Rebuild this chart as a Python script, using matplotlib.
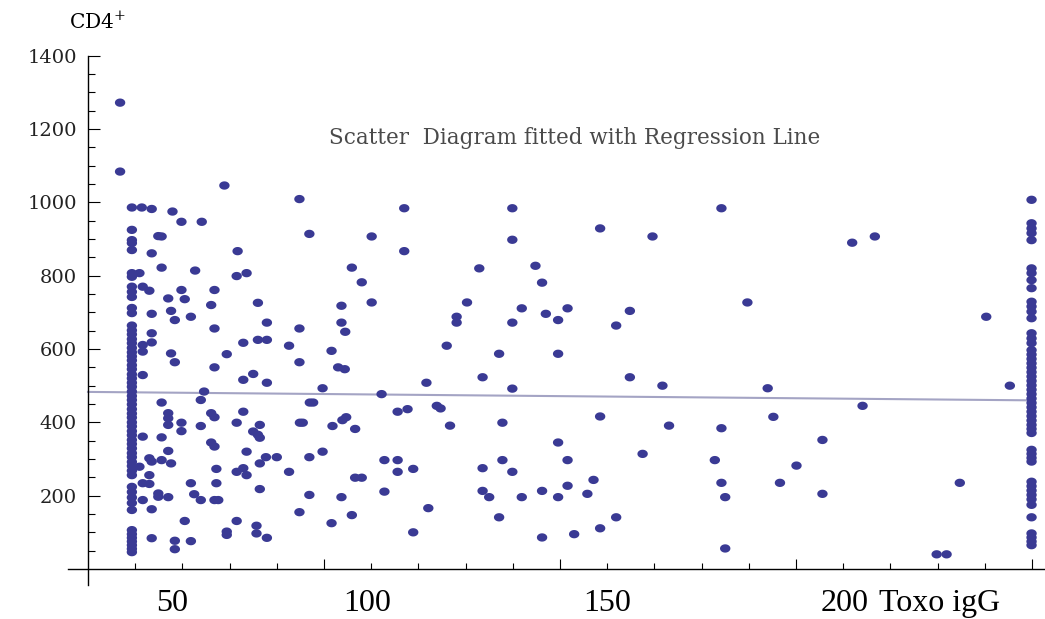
import numpy as np
import matplotlib
matplotlib.use("Agg")
import matplotlib.pyplot as plt
from matplotlib.path import Path

plt.rcParams['mathtext.fontset'] = 'dejavuserif'

# Toxo igG vs CD4+ values
# dense column at the lowest titre
left_col_x = 49.3
left_col_y = [986, 925, 897, 889, 870, 807, 797, 770, 756, 742, 712, 698, 664, 651, 640,
              627, 616, 603, 591, 580, 569, 556, 545, 531, 520, 508, 497, 484, 472, 461,
              449, 436, 424, 413, 400, 389, 376, 365, 352, 341, 329, 316, 305, 292, 281,
              268, 256, 224, 210, 195, 180, 161, 106, 95, 85, 75, 65, 55, 46]

# dense column at the highest titre
right_col_x = 239.9
right_col_y = [1007, 943, 929, 916, 897, 820, 807, 788, 766, 729, 716, 702, 684, 643, 629,
               616, 597, 585, 573, 561, 549, 537, 525, 513, 501, 489, 477, 465, 453, 441,
               429, 417, 405, 393, 382, 371, 325, 314, 303, 293, 238, 226, 214, 202, 190,
               175, 141, 97, 86, 75, 65]

# scattered points
toxo = [46.8, 46.8, 68.9, 51.4, 53.5, 57.9, 59.8, 64.1, 54.9, 55.6, 53.5, 71.7, 55.6, 62.7,
        50.9, 71.5, 73.6, 51.6, 53.0, 59.8, 66.8, 57.0, 60.5, 66.1, 76.0, 57.6, 53.5, 61.8,
        58.4, 66.8, 53.5, 53.5, 51.6, 51.6, 72.9, 76.0, 57.6, 69.4, 58.4, 66.8,
        51.6, 72.9, 75.0, 64.6, 55.6, 63.9, 57.0, 57.0, 57.0, 59.8, 59.8, 66.1, 66.8, 63.9,
        72.9, 71.5, 75.0, 76.0, 51.6, 55.6, 66.1, 66.8, 57.0, 73.6, 53.0, 53.5, 55.6, 57.6,
        50.9, 67.2, 71.5, 72.9, 73.6, 53.0, 51.6, 53.0, 61.8, 67.2, 51.6, 54.9, 54.9, 57.0,
        62.5, 63.9, 66.8, 67.6, 53.5, 60.5, 71.5, 69.4, 69.4, 53.5, 58.4, 58.4, 61.8, 75.7,
        75.7,
        84.8, 107.0, 86.9, 100.1, 107.0, 95.9, 98.0, 93.7, 100.1, 77.9, 84.8, 93.7, 94.5,
        77.9, 82.6, 91.6, 84.8, 93.0, 94.4,
        77.9, 89.7, 102.2, 111.7, 87.0, 87.7, 105.6, 107.7, 84.9, 85.5, 76.4, 76.4, 91.8,
        93.9, 94.7, 96.6, 89.7, 86.9, 77.7, 80.0, 76.4, 82.6, 102.8, 105.6, 105.6, 108.9,
        96.6, 98.0, 76.4, 86.9, 93.7, 102.8, 84.8, 95.9, 91.6, 112.1, 77.9, 108.9,
        129.9, 148.5, 129.9, 122.9, 134.8, 136.2, 120.3, 118.1, 118.1, 131.9, 137.0, 139.6,
        141.6, 129.9, 151.9, 116.0, 127.1, 139.6, 123.6, 129.9, 113.9, 114.7, 116.7, 127.8,
        148.5, 139.6, 123.6, 127.8, 129.9, 141.6, 147.1, 123.6, 125.0, 131.9, 136.2, 139.6,
        141.6, 145.8, 127.1, 151.9, 136.2, 143.0, 148.5,
        174.2, 159.6, 201.9, 206.7, 179.7, 154.8, 154.8, 161.7, 184.0, 204.1, 185.2, 163.1,
        174.2, 195.6, 157.5, 172.8, 190.1, 174.2, 186.6, 175.0, 195.6, 175.0, 219.8, 221.9,
        230.3, 235.3, 224.7]

cd4 = [1272, 1084, 1046, 986, 982, 975, 947, 947, 908, 907, 861, 867, 822, 814,
       807, 799, 807, 770, 759, 761, 761, 738, 736, 720, 726, 704, 696, 688,
       679, 656, 643, 618, 611, 593, 617, 625, 588, 586, 564, 550,
       529, 516, 532, 484, 454, 461, 425, 411, 393, 399, 376, 425, 414, 390,
       429, 399, 375, 366, 361, 359, 345, 334, 322, 320, 302, 293, 297, 288,
       279, 273, 265, 275, 256, 256, 234, 232, 234, 234, 188, 206, 197, 196,
       204, 188, 188, 188, 163, 131, 131, 102, 93, 84, 77, 54, 76, 118,
       97,
       1009, 984, 914, 907, 867, 822, 782, 718, 727, 672, 656, 672, 647,
       625, 609, 595, 564, 550, 545,
       508, 493, 477, 508, 454, 454, 429, 436, 399, 399, 393, 358, 390,
       406, 414, 382, 320, 305, 305, 305, 288, 265, 297, 297, 265, 273,
       249, 249, 218, 202, 196, 211, 155, 147, 125, 166, 85, 100,
       984, 929, 898, 820, 827, 781, 727, 688, 672, 711, 696, 679,
       711, 672, 664, 609, 587, 587, 523, 492, 445, 438, 391, 399,
       416, 345, 275, 297, 265, 297, 243, 213, 196, 196, 213, 196,
       227, 205, 141, 141, 86, 95, 111,
       984, 907, 890, 907, 727, 704, 523, 500, 493, 445, 415, 391,
       384, 352, 314, 297, 282, 235, 235, 196, 205, 56, 40, 40,
       688, 500, 235]

# regression line ends
reg_x = [40, 240]
reg_y = [483, 460]

y_major = [200, 400, 600, 800, 1000, 1200, 1400]
x_label_pos = [57.8, 99.1, 150, 200.4]
x_label_txt = ['50', '100', '150', '200']

all_x = np.concatenate([np.full(len(left_col_y), left_col_x), toxo,
                        np.full(len(right_col_y), right_col_x)])
all_y = np.concatenate([left_col_y, cd4, right_col_y])

# slightly wide oval dots
t = np.linspace(0, 2 * np.pi, 40)
oval = Path(np.column_stack([1.25 * np.cos(t), np.sin(t)]), closed=True)

fig = plt.figure(figsize=(10.45, 6.19), dpi=100)
ax = fig.add_axes([0, 0, 1, 1])
ax.set_xlim(21.36, 242.75)
ax.set_ylim(-136.4, 1552)

ax.plot(reg_x, reg_y, color='#a4a4c4', lw=1.5, zorder=2)
ax.scatter(all_x, all_y, s=56, marker=oval, color='#3a3a94', edgecolors='none', zorder=3)

for side in ['top', 'right']:
    ax.spines[side].set_visible(False)
ax.spines['left'].set_position(('data', 40))
ax.spines['left'].set_bounds(-44, 1400)
ax.spines['bottom'].set_position(('data', 0))
ax.spines['bottom'].set_bounds(35.8, 242.75)
for side in ['left', 'bottom']:
    ax.spines[side].set_linewidth(1.0)

ax.set_yticks(y_major)
ax.set_yticks([v for v in range(50, 1400, 50) if v % 200 != 0], minor=True)
ax.set_yticklabels([str(v) for v in y_major], family='DejaVu Serif', fontsize=14, color='#222222')
ax.tick_params(axis='y', which='major', direction='in', length=8.5, width=0.8, pad=8)
ax.tick_params(axis='y', which='minor', direction='in', length=5.3, width=0.8)

ax.set_xticks([90, 140, 190, 240])
ax.set_xticks([v for v in range(50, 240, 10) if v not in (90, 140, 190)], minor=True)
ax.set_xticklabels([])
ax.tick_params(axis='x', which='major', direction='in', length=7.2, width=0.8)
ax.tick_params(axis='x', which='minor', direction='in', length=4.3, width=0.8)

for xp, lab in zip(x_label_pos, x_label_txt):
    ax.text(xp, -93, lab, family='Liberation Serif', fontsize=23, ha='center', va='center')
ax.text(207.6, -93, 'Toxo igG', family='Liberation Serif', fontsize=23, ha='left', va='center')

ax.text(42.0, 1492, 'CD4$^{+}$', family='DejaVu Serif', fontsize=14.5, ha='center', va='center')
ax.text(143, 1176, 'Scatter  Diagram fitted with Regression Line', family='DejaVu Serif',
        fontsize=15.5, color='#4a4a4a', ha='center', va='center')

plt.savefig('out.png', dpi=100)
